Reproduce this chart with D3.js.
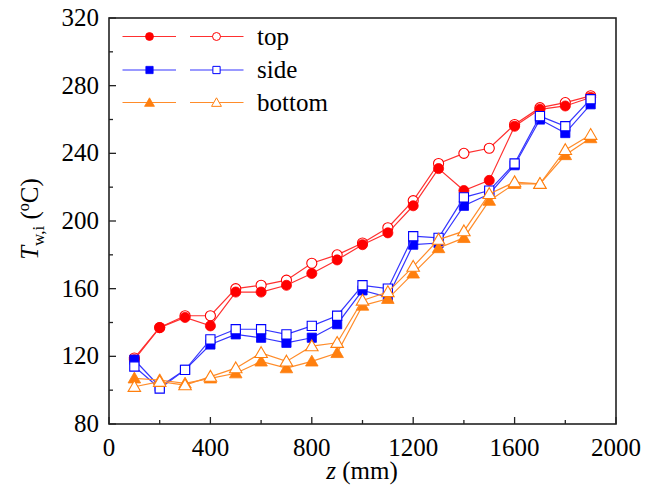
<!DOCTYPE html>
<html><head><meta charset="utf-8">
<script src="https://cdn.jsdelivr.net/npm/d3@7"></script>
<style>body{margin:0;background:#fff}</style>
</head><body><svg id="c" width="660" height="487"></svg>
<script>
const z = [100,200,300,400,500,600,700,800,900,1000,1100,1200,1300,1400,1500,1600,1700,1800,1900];
const topFilled    = [118,137,143,138,158,158,162,169,177,186,193,209,231,218,224,256,266,268,273];
const topOpen      = [119,137,144,144,160,162,165,175,180,187,196,212,234,240,243,257,267,270,274];
const sideFilled   = [118,102,112,127,133,131,128,131,139,159,155,186,187,209,216,233,260,252,269];
const sideOpen     = [114,101,112,130,136,136,133,138,144,162,160,191,190,214,218,234,262,256,272];
const bottomFilled = [107,106,104,107,110,117,113,117,122,150,154,169,184,190,212,222,222,239,249];
const bottomOpen   = [102,105,103,108,113,122,117,126,128,153,158,173,189,194,216,223,222,242,251];
const xTicks = [0,400,800,1200,1600,2000];
const yTicks = [80,120,160,200,240,280,320];
const legendLabels = ["top","side","bottom"];

const FF="Liberation Serif";
const L=109,R=616,T=18,B=424;
const x=d3.scaleLinear().domain([0,2000]).range([L,R]);
const y=d3.scaleLinear().domain([80,320]).range([B,T]);
const svg=d3.select("#c");
const txt=(sel)=>sel.append("text").attr("font-family",FF).attr("font-size",25).attr("fill","#000");

const cols={top:"#ff0000",side:"#0000ff",bottom:"#ff7f0e"};
const lineCols={top:"#ff3030",side:"#3535ff",bottom:"#ff8c2a"};
const sym={top:d3.symbolCircle,side:d3.symbolSquare,bottom:d3.symbolTriangle};
const sz={top:80,side:85,bottom:68};

const gx=svg.append("g");
d3.range(0,2001,200).forEach(v=>{
  const major=v%400===0;
  gx.append("line").attr("x1",x(v)).attr("x2",x(v)).attr("y1",B).attr("y2",B-(major?7:4)).attr("stroke","#222").attr("stroke-width",1.3);
});
d3.range(80,321,20).forEach(v=>{
  const major=v%40===0;
  gx.append("line").attr("x1",L).attr("x2",L+(major?7:4)).attr("y1",y(v)).attr("y2",y(v)).attr("stroke","#222").attr("stroke-width",1.3);
});
xTicks.forEach(v=>txt(svg).attr("x",x(v)).attr("y",456).attr("text-anchor","middle").text(v));
yTicks.forEach(v=>txt(svg).attr("x",99).attr("y",y(v)+8).attr("text-anchor","end").text(v));

const series=[
  {k:"top",v:topOpen,f:false},{k:"top",v:topFilled,f:true},
  {k:"side",v:sideFilled,f:true},{k:"side",v:sideOpen,f:false},
  {k:"bottom",v:bottomFilled,f:true},{k:"bottom",v:bottomOpen,f:false}
];
const line=d3.line().x((d,i)=>x(z[i])).y(d=>y(d));
series.forEach(s=>{
  const g=svg.append("g");
  g.append("path").datum(s.v).attr("d",line).attr("fill","none").attr("stroke",lineCols[s.k]).attr("stroke-width",1.2);
  g.selectAll("path.m").data(s.v).enter().append("path").attr("class","m")
    .attr("d",d3.symbol().type(sym[s.k]).size(sz[s.k]))
    .attr("transform",(d,i)=>`translate(${x(z[i])},${y(d)+(s.k==="bottom"?1:0)})`)
    .attr("fill",s.f?cols[s.k]:"#fff").attr("stroke",cols[s.k]).attr("stroke-width",s.f?0.8:1.1);
});

svg.append("rect").attr("x",L).attr("y",T).attr("width",R-L).attr("height",B-T).attr("fill","none").attr("stroke","#222").attr("stroke-width",1.6);

const ly=[36.5,70,102.5];
["top","side","bottom"].forEach((k,i)=>{
  [[122.5,176,149.5,true],[190,243.5,216.5,false]].forEach(([a,b,m,f])=>{
    svg.append("line").attr("x1",a).attr("x2",b).attr("y1",ly[i]).attr("y2",ly[i]).attr("stroke",lineCols[k]).attr("stroke-width",1.2);
    svg.append("path").attr("d",d3.symbol().type(sym[k]).size(sz[k]*0.62)())
      .attr("transform",`translate(${m},${ly[i]+(k==="bottom"?1:0)})`)
      .attr("fill",f?cols[k]:"#fff").attr("stroke",cols[k]).attr("stroke-width",f?0.8:1);
  });
  txt(svg).attr("x",257).attr("y",ly[i]+8).text(legendLabels[i]);
});

const xl=txt(svg).attr("x",362).attr("y",479).attr("text-anchor","middle");
xl.append("tspan").attr("font-style","italic").text("z");
xl.append("tspan").text(" (mm)");
const yl=txt(svg).attr("transform","translate(38,219) rotate(-90)").attr("text-anchor","middle");
yl.append("tspan").attr("font-style","italic").text("T");
yl.append("tspan").attr("font-size",17).attr("dy",6).text("w,i");
yl.append("tspan").attr("dy",-6).text(" (");
yl.append("tspan").attr("font-size",16).attr("dy",-9).text("o");
yl.append("tspan").attr("dy",9).text("C)");
</script></body></html>
